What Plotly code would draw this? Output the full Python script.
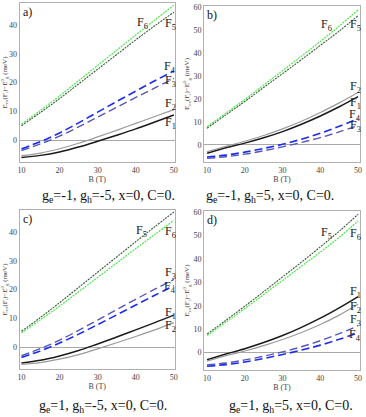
import plotly.graph_objects as go
from plotly.subplots import make_subplots

# magnetic field samples (T)
B = [10, 15, 20, 25, 30, 35, 40, 45, 50]

# a) ge=-1, gh=-5
a_F1 = [-6.0, -5.3, -4.1, -2.4, -0.4, 1.7, 3.9, 6.3, 8.7]
a_F2 = [-5.4, -4.5, -3.0, -1.1, 1.1, 3.4, 5.8, 8.2, 10.6]
a_F3 = [-3.6, -1.3, 1.4, 4.6, 8.0, 11.4, 14.8, 18.1, 21.4]
a_F4 = [-3.0, -0.5, 2.5, 6.0, 9.7, 13.4, 17.0, 20.6, 24.0]
a_F5 = [5.0, 9.6, 14.4, 19.5, 24.6, 29.7, 34.8, 39.7, 44.4]
a_F6 = [5.5, 10.3, 15.3, 20.6, 25.9, 31.2, 36.5, 41.7, 46.8]

# b) ge=-1, gh=5
b_F1 = [-3.6, -1.2, 0.8, 3.1, 5.8, 9.0, 12.6, 16.6, 21.0]
b_F2 = [-3.0, -0.6, 1.6, 4.1, 7.0, 10.3, 14.1, 18.3, 22.8]
b_F3 = [-5.8, -5.1, -4.0, -2.5, -0.8, 1.1, 3.2, 5.7, 8.5]
b_F4 = [-5.2, -4.4, -3.1, -1.5, 0.3, 2.5, 5.1, 8.1, 11.4]
b_F5 = [7.3, 13.1, 18.9, 25.0, 31.0, 37.1, 43.3, 49.5, 56.2]
b_F6 = [7.9, 13.8, 19.8, 26.0, 32.3, 38.6, 45.0, 51.7, 58.7]

# c) ge=1, gh=-5
c_F1 = [-5.5, -4.6, -3.1, -1.2, 1.1, 3.5, 6.0, 8.5, 11.1]
c_F2 = [-6.0, -5.4, -4.2, -2.6, -0.6, 1.5, 3.7, 6.0, 8.5]
c_F3 = [-3.0, -0.5, 2.4, 5.8, 9.4, 13.0, 16.6, 20.1, 23.5]
c_F4 = [-3.6, -1.3, 1.4, 4.5, 7.8, 11.2, 14.6, 18.0, 21.3]
c_F5 = [5.5, 10.3, 15.4, 20.7, 26.0, 31.3, 36.6, 41.8, 46.9]
c_F6 = [5.0, 9.5, 14.2, 19.2, 24.2, 29.2, 34.2, 39.1, 44.0]

# d) ge=1, gh=5
d_F1 = [-3.0, -0.6, 1.7, 4.3, 7.3, 10.8, 14.7, 19.1, 23.9]
d_F2 = [-3.6, -1.3, 0.7, 3.0, 5.6, 8.6, 12.0, 16.0, 20.6]
d_F3 = [-5.2, -4.4, -3.1, -1.5, 0.3, 2.5, 5.1, 8.1, 11.4]
d_F4 = [-5.8, -5.1, -4.0, -2.5, -0.8, 1.1, 3.2, 5.7, 8.5]
d_F5 = [7.9, 13.8, 19.8, 26.0, 32.3, 38.6, 45.1, 51.8, 59.0]
d_F6 = [7.3, 13.0, 18.8, 24.8, 30.8, 36.8, 42.9, 49.2, 56.2]

captions = ["g<sub>e</sub>=-1, g<sub>h</sub>=-5, x=0, C=0.",
            "g<sub>e</sub>=-1, g<sub>h</sub>=5, x=0, C=0.",
            "g<sub>e</sub>=1, g<sub>h</sub>=-5, x=0, C=0.",
            "g<sub>e</sub>=1, g<sub>h</sub>=5, x=0, C=0."]
panel_tags = ["a)", "b)", "c)", "d)"]
names = ["F1", "F2", "F3", "F4", "F5", "F6"]

panels = [
    [a_F1, a_F2, a_F3, a_F4, a_F5, a_F6],
    [b_F1, b_F2, b_F3, b_F4, b_F5, b_F6],
    [c_F1, c_F2, c_F3, c_F4, c_F5, c_F6],
    [d_F1, d_F2, d_F3, d_F4, d_F5, d_F6],
]

# curve label positions (B, E) per panel, order F1..F6
label_pos = [
    [(49.2, 6.0), (49.2, 12.4), (49.1, 20.6), (49.1, 25.4), (49.1, 40.2), (41.8, 40.8)],
    [(49.2, 18.2), (49.2, 25.0), (49.2, 8.4), (49.2, 13.2), (49.2, 52.2), (41.5, 52.2)],
    [(49.2, 11.9), (49.2, 7.5), (49.1, 25.8), (49.1, 20.8), (41.6, 40.2), (49.1, 40.0)],
    [(49.2, 25.8), (49.2, 19.6), (49.2, 13.8), (49.2, 7.4), (41.5, 51.0), (49.2, 50.6)],
]

styles = [
    dict(color="#1a1a1a", width=1.5, dash="solid"),
    dict(color="#9a9a9a", width=1.2, dash="solid"),
    dict(color="#5656b8", width=1.4, dash="8px,4px"),
    dict(color="#1a2cf0", width=1.6, dash="8px,4px"),
    dict(color="#3c5a3c", width=1.1, dash="2px,1px"),
    dict(color="#58e858", width=1.3, dash="2px,1px"),
]

W, H = 366, 417
# plot area boxes in pixels: x0, x1, ytop, ybottom
boxes = [(19.5, 175, 3, 162), (204, 360, 6, 162),
         (19.5, 175, 210, 369), (204, 360, 211, 370)]
yranges = [[-7.6, 47.6], [-7.4, 60.4], [-7.6, 47.6], [-7.4, 60.4]]
xranges = [[9.5, 50.3], [9.2, 50.5], [9.5, 50.3], [9.2, 50.5]]

fig = make_subplots(rows=2, cols=2)
serif = "Liberation Serif"
ytitle = "E<sub>ex</sub>(F<sub>i</sub>)−E<sup>0</sup><sub>g</sub> (meV)"

for k, curves in enumerate(panels):
    r, c = k // 2 + 1, k % 2 + 1
    for name, ys, st in zip(names, curves, styles):
        fig.add_trace(go.Scatter(x=B, y=ys, mode="lines", name=name,
                                 line=dict(color=st["color"], width=st["width"], dash=st["dash"],
                                           shape="spline"),
                                 showlegend=False), row=r, col=c)
    x0, x1, yt, yb = boxes[k]
    sfx = "" if k == 0 else str(k + 1)
    fig.layout["xaxis" + sfx].update(
        domain=[x0 / W, x1 / W], range=xranges[k], tickvals=[10, 20, 30, 40, 50],
        automargin=False,
        showgrid=False, zeroline=False, showline=True, linecolor="#b0b0b0", linewidth=1,
        mirror=True, ticks="", tickfont=dict(family=serif, size=8, color="#444"),
        title=dict(text="B (T)", font=dict(family=serif, size=8, color="#444"), standoff=1))
    top = 40 if yranges[k][1] < 50 else 60
    fig.layout["yaxis" + sfx].update(
        domain=[1 - yb / H, 1 - yt / H], range=yranges[k], tickvals=list(range(0, top + 1, 10)),
        automargin=False,
        showgrid=False, zeroline=True, zerolinecolor="#a8a8a8", zerolinewidth=1,
        showline=True, linecolor="#b0b0b0", linewidth=1, mirror=True, ticks="",
        tickfont=dict(family=serif, size=8, color="#444"),
        title=dict(text=ytitle, font=dict(family=serif, size=7, color="#444"), standoff=2))
    xr = "x" + sfx
    yr = "y" + sfx
    for name, (lx, ly) in zip(names, label_pos[k]):
        fig.add_annotation(x=lx, y=ly, xref=xr, yref=yr, showarrow=False,
                           text="F<sub>" + name[1] + "</sub>",
                           font=dict(family=serif, size=12, color="#222"))
    fig.add_annotation(x=xranges[k][0], y=yranges[k][1], xref=xr, yref=yr, showarrow=False,
                       xanchor="left", yanchor="top", xshift=1, text=panel_tags[k],
                       font=dict(family=serif, size=12, color="#111"))
    # caption under each panel
    cx = [108, 270, 103, 291][k]
    cy = [197, 197, 406, 406][k]
    fig.add_annotation(x=cx / W, y=1 - cy / H, xref="paper", yref="paper", showarrow=False,
                       xanchor="center", yanchor="middle",
                       text=captions[k], font=dict(family=serif, size=14, color="#111"))

fig.update_layout(width=W, height=H, margin=dict(l=0, r=0, t=0, b=0),
                  paper_bgcolor="white", plot_bgcolor="white")

fig.write_html("out.html", config={"displayModeBar": False},
               post_script="document.body.style.margin='0';")
